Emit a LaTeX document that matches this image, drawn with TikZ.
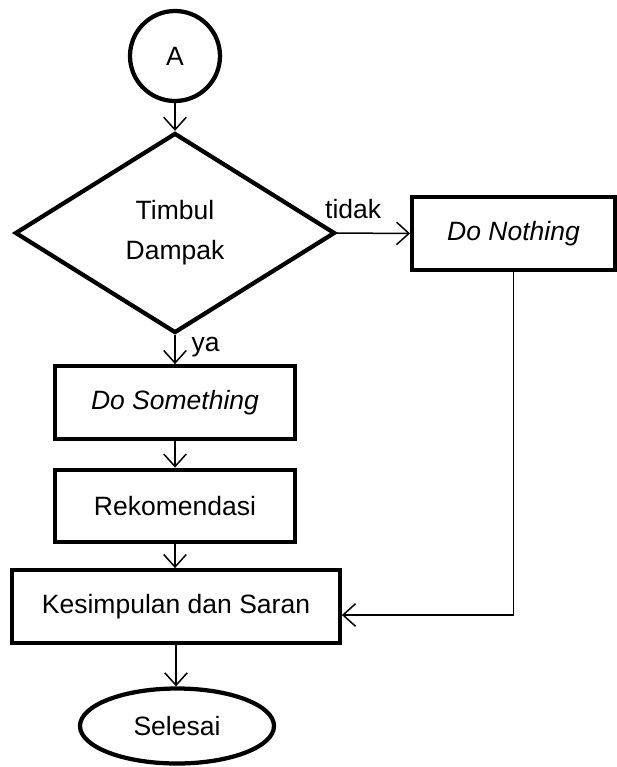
\documentclass[tikz,border=0pt]{standalone}
\usepackage{fontspec}
\setmainfont{Liberation Sans}
\usetikzlibrary{arrows.meta}
\usetikzlibrary{shapes.geometric}
\usetikzlibrary{calc}

\tikzset{
  shapeline/.style={draw, line width=1.7pt},
  flowbox/.style={shapeline, rectangle, minimum height=29pt, inner sep=2pt},
  connector/.style={line width=0.6pt, ->},
}

\begin{document}
\begin{tikzpicture}[x=0.4pt, y=-0.4pt, font=\fontsize{10.6}{16}\selectfont,
                    >={Straight Barb[length=5pt,width=9pt]}]
          \useasboundingbox (0,0) rectangle (616,767);

          \node [shapeline, circle, minimum size=36pt, inner sep=0pt] (mulai) at (175,56) {A};
          \node [shapeline, diamond, minimum width=128pt, minimum height=80pt, inner sep=0pt, align=center] (timbul) at (175,233) {Timbul\\Dampak};
          \node [flowbox, minimum width=81pt] (nothing) at (513.5,233.5) {\textit{Do Nothing}};
          \node [flowbox, minimum width=96pt] (something) at (175,402.5) {\textit{Do Something}};
          \node [flowbox, minimum width=96pt] (rekom) at (175,506) {Rekomendasi};
          \node [flowbox, minimum width=131pt] (simpulan) at (176,606.5) {Kesimpulan dan Saran};
          \node [shapeline, ellipse, minimum width=77.6pt, minimum height=30pt, inner sep=0pt] (selesai) at (177,726) {Selesai};

          % alur utama
          \draw [connector] (mulai.south) -- (timbul.north);
          \draw [connector] (timbul.south) -- (something.north) node[pos=0.4, right, xshift=3pt] {ya};
          \draw [connector] (something.south) -- (rekom.north);
          \draw [connector] (rekom.south) -- (rekom.south |- simpulan.north);
          \draw [connector] (simpulan.south) -- (simpulan.south |- selesai.north);

          % cabang tidak
          \draw [connector] (timbul.east) -- (nothing.west) node[pos=0.22, above, yshift=2pt] {tidak};
          \coordinate (balik) at (513,615);
          \draw [connector] (nothing.south) |- (simpulan.east |- balik);

        \end{tikzpicture}
\end{document}
